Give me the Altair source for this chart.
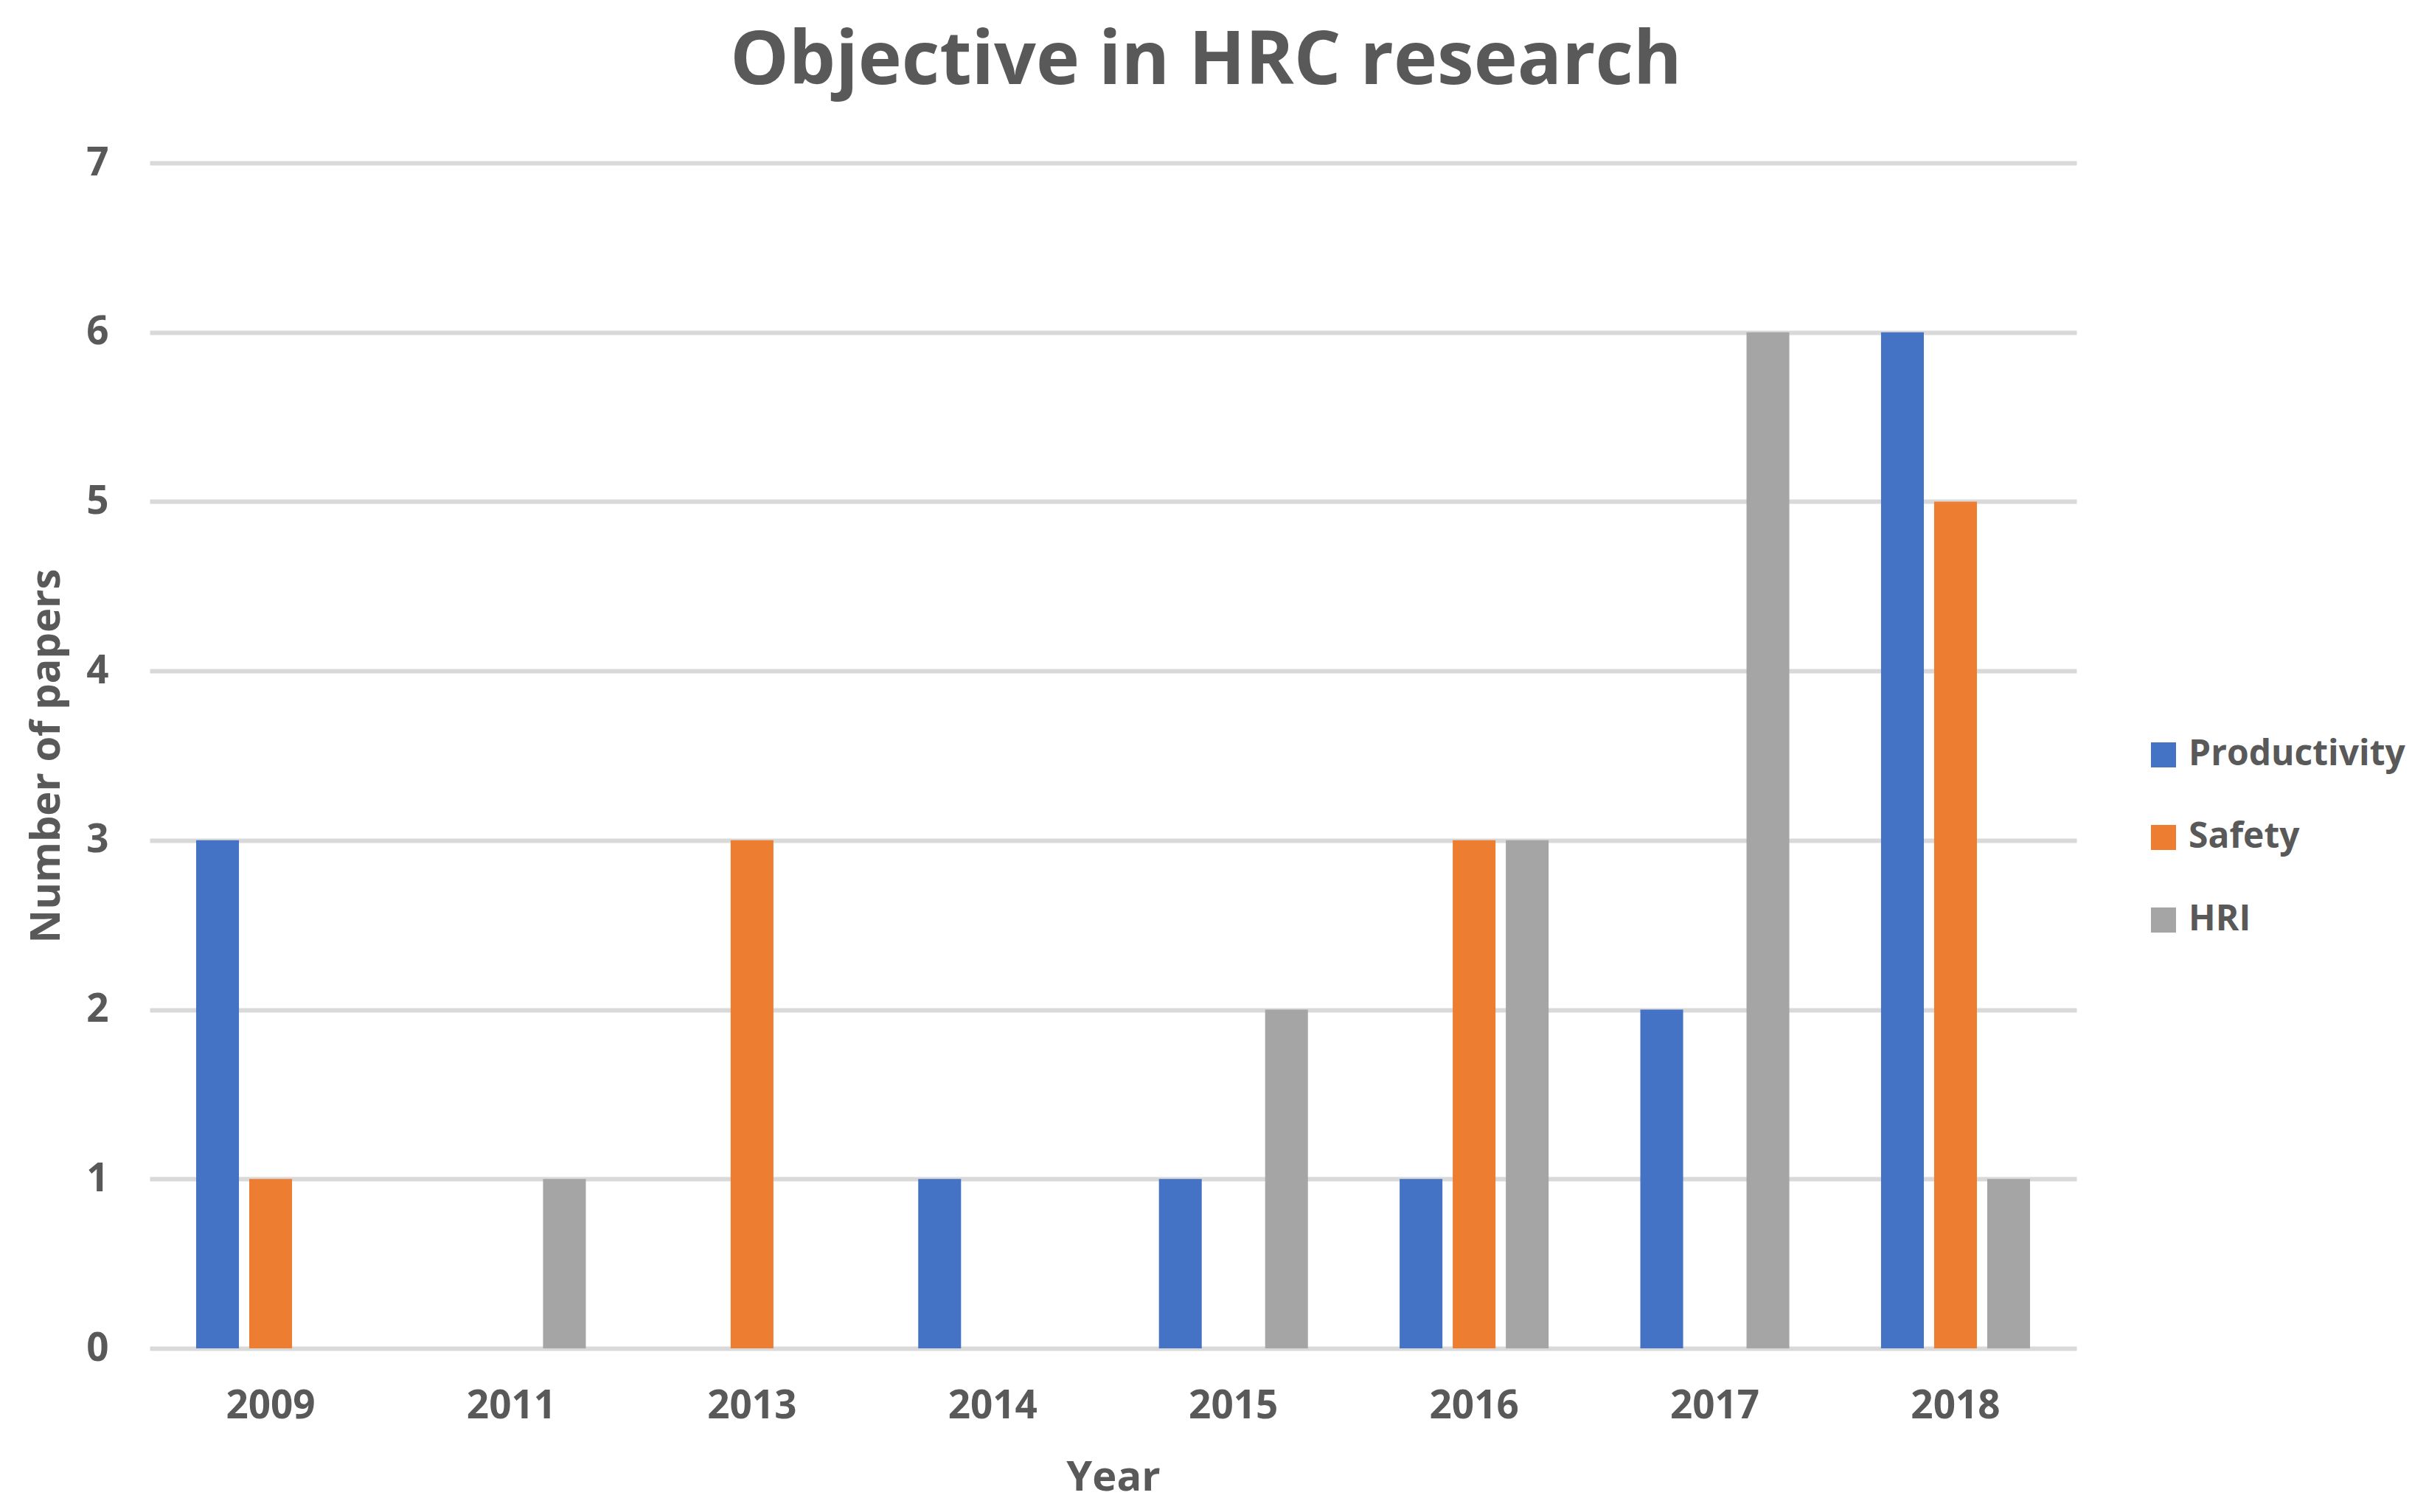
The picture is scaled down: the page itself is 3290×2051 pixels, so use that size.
import altair as alt
import pandas as pd

years = ["2009", "2011", "2013", "2014", "2015", "2016", "2017", "2018"]
series = ["Productivity", "Safety", "HRI"]
productivity = [3, 0, 0, 1, 1, 1, 2, 6]
safety = [1, 0, 3, 0, 0, 3, 0, 5]
hri = [0, 1, 0, 0, 2, 3, 6, 1]
colors = ["#4472C4", "#ED7D31", "#A5A5A5"]
y_ticks = [0, 1, 2, 3, 4, 5, 6, 7]

rows = []
for name, vals in zip(series, [productivity, safety, hri]):
    for yr, v in zip(years, vals):
        rows.append({"Year": yr, "Objective": name, "Papers": v})
df = pd.DataFrame(rows)

FONT = "Open Sans"
TXT = "#595959"

chart = alt.Chart(df).mark_bar().encode(
    x=alt.X(
        "Year:N",
        sort=years,
        scale=alt.Scale(paddingInner=0.381, paddingOuter=0.193),
        axis=alt.Axis(
            title="Year", labelAngle=0, ticks=False, domain=False, grid=False,
            labelPadding=52, titlePadding=43,
            labelFont=FONT, labelFontSize=53, labelFontWeight="bold", labelColor=TXT,
            titleFont=FONT, titleFontSize=56, titleFontWeight="bold", titleColor=TXT,
        ),
    ),
    xOffset=alt.XOffset(
        "Objective:N", sort=series,
        scale=alt.Scale(domain=series, paddingInner=0.194, paddingOuter=0),
    ),
    y=alt.Y(
        "Papers:Q",
        scale=alt.Scale(domain=[0, 7], nice=False),
        axis=alt.Axis(
            title="Number of papers", values=y_ticks, format="d",
            grid=True, gridColor="#D9D9D9", gridWidth=6,
            ticks=False, domain=False, labelPadding=56, titlePadding=24,
            labelFont=FONT, labelFontSize=53, labelFontWeight="bold", labelColor=TXT,
            titleFont=FONT, titleFontSize=56, titleFontWeight="bold", titleColor=TXT,
        ),
    ),
    color=alt.Color(
        "Objective:N", sort=series,
        scale=alt.Scale(domain=series, range=colors),
        legend=alt.Legend(
            title=None, orient="none", legendX=2707, legendY=779,
            symbolType="square", symbolSize=1156, symbolStrokeWidth=0,
            labelFont=FONT, labelFontSize=48, labelFontWeight="bold", labelColor=TXT,
            labelLimit=0, rowPadding=64, labelOffset=10,
        ),
    ),
).properties(
    width=2613,
    height=1608,
    title=alt.TitleParams(
        "Objective in HRC research", font=FONT, fontSize=100, fontWeight="bold",
        color=TXT, anchor="middle", frame="group", dx=126, offset=60,
    ),
    autosize=alt.AutoSizeParams(type="none"),
    padding={"left": 195, "top": 213, "right": 465, "bottom": 212},
).configure_view(stroke=None)

chart.save("out.html", embed_options={"renderer": "svg", "actions": False})
